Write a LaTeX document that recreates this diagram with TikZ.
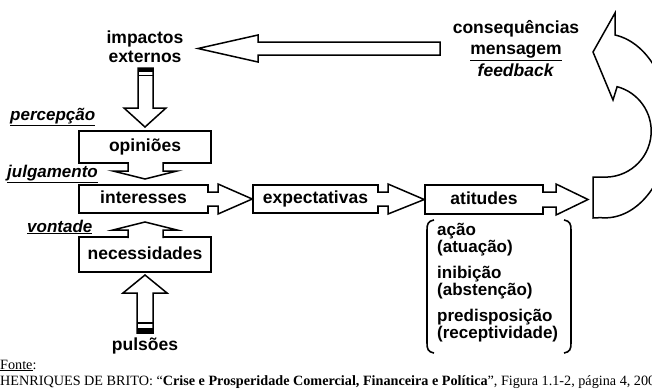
\documentclass[tikz,border=0pt]{standalone}
\usepackage{fontspec}
\setmainfont{Liberation Serif}
\setsansfont{Liberation Sans}

\begin{document}
\begin{tikzpicture}[x=1pt, y=-1pt,
  box/.style={draw, line width=1.5pt, inner sep=0pt, text height=13pt, text depth=3.5pt, font=\sffamily\bfseries\fontsize{17.5}{18}\selectfont},
  blk/.style={draw, fill=white, line width=1.5pt, line join=miter},
  txt/.style={inner sep=0pt, align=center, font=\sffamily\bfseries\fontsize{17.5}{19}\selectfont},
  lbl/.style={inner sep=0pt, anchor=west, font=\sffamily\bfseries\itshape\fontsize{17}{18}\selectfont},
  src/.style={inner sep=0pt, anchor=base west, font=\fontsize{14.2}{15}\selectfont}]
\useasboundingbox (0,0) rectangle (652,389);
\clip (0,0) rectangle (652,389);

\node[box, minimum width=132pt, minimum height=32pt] (opi) at (145,147) {opiniões};
\node[box, minimum width=129pt, minimum height=28pt] (int) at (143.5,199) {interesses};
\node[box, minimum width=132pt, minimum height=35pt] (nec) at (145,254.5) {necessidades};
\node[box, minimum width=125pt, minimum height=28pt] (exp) at (315.5,199) {expectativas};
\node[box, minimum width=118pt, minimum height=29pt] (ati) at (484,199.5) {atitudes};

\coordinate (opitip) at (145,179);
\coordinate (nectip) at (145,222);
\coordinate (atitip) at (588,199.5);
\coordinate (exttip) at (198,48.5);

\draw[blk] (128,162) -- (128,171) -- (113,171) -- (opitip) -- (177,171) -- (163,171) -- (163,162);
\draw[blk] (128,238) -- (128,230) -- (113,230) -- (nectip) -- (177,230) -- (163,230) -- (163,238);
\draw[blk] (207,192) -- (218,192) -- (218,184) -- (exp.west) -- (218,214) -- (218,206) -- (207,206);
\draw[blk] (377,192) -- (388,192) -- (388,184) -- (ati.west) -- (388,214) -- (388,206) -- (377,206);
\draw[blk] (542,192) -- (556,192) -- (556,184) -- (atitip) -- (556,215) -- (556,207) -- (542,207);

\node[txt] (ext) at (145,47) {impactos\\externos};
\node[txt] (pul) at (145,346) {pulsões};
\node[txt, font=\sffamily\bfseries\fontsize{17.5}{21.5}\selectfont] (cons) at (516,48.5) {consequências\\\underline{mensagem}\\\textit{feedback}};

\draw[blk] (440,42) -- (258,42) -- (258,35) -- (exttip) -- (258,62) -- (258,55) -- (440,55) -- cycle;

\draw[blk] (138,68) -- (138,108) -- (124,108) -- (145,127) -- (166,108) -- (153,108) -- (153,68) -- cycle;
\fill (138,68) rectangle (153,72);
\draw[line width=1.2pt] (138,75.5) -- (153,75.5);

\draw[blk] (137,333) -- (137,293) -- (123,293) -- (145,275) -- (167,293) -- (153,293) -- (153,333) -- cycle;
\draw[line width=1.2pt] (137,323) -- (153,323);
\fill (137,328) rectangle (153,333);

\draw[blk] (593,218) -- (593,177) -- (602,177) arc[start angle=94, end angle=-75, radius=46]
  -- (613,100) -- (593,52) -- (615,13) -- (615,35)
  arc[start angle=-81, end angle=94, x radius=65, y radius=92] -- cycle;

\node[lbl] (per) at (10,117) {\underline{percepção}};
\node[lbl] (jul) at (7,174) {\underline{julgamento}};
\node[lbl] (von) at (27,227) {\underline{vontade}};

\node[inner sep=0pt, anchor=north west, align=left, font=\sffamily\bfseries\fontsize{17}{17.5}\selectfont] (res) at (437,223)
  {ação\\(atuação)\\[8pt]inibição\\(abstenção)\\[8pt]predisposição\\(receptividade)};
\draw[line width=1.6pt] (434,220) .. controls (428,221) and (427,224) .. (427,230) -- (427,343) .. controls (427,349) and (428,352) .. (434,353);
\draw[line width=1.6pt] (564,220) .. controls (570,221) and (571,224) .. (571,230) -- (571,343) .. controls (571,349) and (570,352) .. (564,353);

\node[src] (fon) at (0,369) {\underline{Fonte}:};
\node[src] (cit) at (0,385) {HENRIQUES DE BRITO: “\textbf{Crise e Prosperidade Comercial, Financeira e Política}”, Figura 1.1-2, página 4, 200};
\end{tikzpicture}
\end{document}
